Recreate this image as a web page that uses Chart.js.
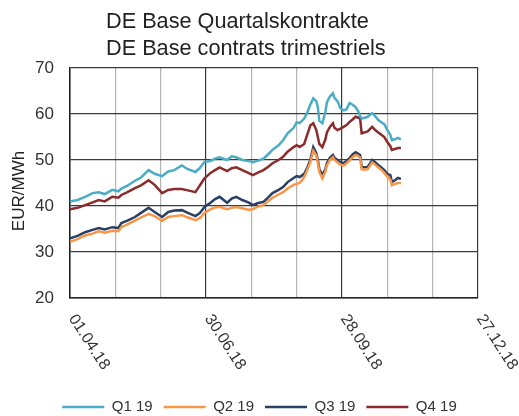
<!DOCTYPE html>
<html>
<head>
<meta charset="utf-8">
<script src="https://cdn.jsdelivr.net/npm/chart.js@4.4.1/dist/chart.umd.min.js"></script>
<style>
  html, body { margin: 0; padding: 0; background: #fff; }
  #chart { display: block; }
</style>
</head>
<body>
<canvas id="chart" width="519" height="416"></canvas>
<script>
// days since 01.04.18
const days = [0,5,10,15,19,23,28,32,34,38,43,47,52,56,61,65,69,74,78,83,86,89,93,96,99,104,107,110,114,118,121,124,128,131,134,138,141,144,148,150,152,155,157,159,161,163,164,165,167,169,170,172,174,175,177,179,181,183,185,187,189,191,192,193,195,197,200,202,204,206,208,210,212,213,215,217,219];

const q1 = [41.0,41.3,42.0,42.8,43.0, 42.6,43.5,43.2,43.8,44.4, 45.5,46.2,47.8,47.0,46.5, 47.5,47.8,48.8,48.0,47.4, 48.3,49.6,49.8,50.3,50.6, 50.0,50.8,50.6,50.0,49.8, 49.5,49.8,50.3,51.2,52.2, 53.2,54.3,55.8,57.0,58.2, 58.0,59.0,60.3,62.0,63.4, 62.8,61.5,58.5,58.0,60.5, 62.5,63.8,64.5,63.5,62.8, 61.2,60.8,61.0,62.4,62.0, 61.5,60.4,59.5,59.0,59.2, 59.4,60.2,59.5,58.7,58.2, 57.8,56.5,55.5,54.3,54.5, 54.8,54.5];
const q2 = [32.2,32.8,33.6,34.0,34.5, 34.2,34.6,34.5,35.4,36.0, 36.8,37.5,38.3,37.8,36.8, 37.6,37.8,38.0,37.5,36.9, 37.4,38.5,39.3,39.7,39.8, 39.3,39.6,39.8,39.5,39.2, 39.3,39.8,40.2,41.0,41.8, 42.5,43.0,43.8,44.6,44.8, 45.0,46.3,47.8,49.5,52.0, 51.0,49.4,47.4,46.0,47.5, 48.8,50.0,50.6,50.0,49.5, 49.0,48.8,49.3,49.9,50.6, 51.1,50.8,50.5,48.0,47.9, 48.0,49.5,49.0,48.4,47.9, 47.2,46.4,45.8,44.5,44.8, 45.0,45.0];
const q3 = [33.0,33.5,34.3,34.8,35.2, 34.9,35.4,35.2,36.3,36.8, 37.6,38.5,39.6,38.7,37.6, 38.7,39.0,39.1,38.5,37.8, 38.5,39.8,40.7,41.5,42.0, 40.7,41.6,42.0,41.3,40.8, 40.2,40.6,40.9,41.8,42.8, 43.5,44.1,45.2,46.1,46.5, 46.3,47.0,48.3,50.0,52.8, 51.5,50.0,48.0,46.7,48.0, 49.3,50.5,51.1,50.5,50.0, 49.5,49.3,49.8,50.4,51.2, 51.7,51.3,51.1,48.5,48.4, 48.5,50.0,49.5,48.9,48.4, 47.8,47.0,46.7,45.2,45.6, 46.1,45.9];
const q4 = [39.3,39.6,40.2,40.8,41.3, 41.0,42.0,41.8,42.4,43.0, 43.9,44.5,45.6,44.6,42.8, 43.5,43.7,43.7,43.4,43.0, 44.5,46.0,47.2,47.8,48.4, 47.6,48.2,48.4,47.8,47.2, 46.7,47.2,47.8,48.5,49.3, 50.0,50.7,51.8,52.8,53.2, 52.8,53.5,55.5,57.5,58.0, 56.5,55.0,53.5,52.8,54.5, 56.0,57.2,58.0,57.0,56.5, 56.8,57.2,57.6,58.3,58.8, 59.4,59.2,59.0,55.8,56.0, 56.2,57.2,56.5,56.0,55.5, 55.0,53.9,53.0,52.2,52.4, 52.6,52.6];

const seriesNames = ["Q1 19", "Q2 19", "Q3 19", "Q4 19"];
const tickDays = [0, 90, 180, 270];
const tickLabels = ["01.04.18", "30.06.18", "28.09.18", "27.12.18"];
const titleLines = ["DE Base Quartalskontrakte", "DE Base contrats trimestriels"];
const yTitle = "EUR/MWh";

const FONT = '"Liberation Sans", Arial, sans-serif';
const colors = ["#4bacc6", "#f79646", "#2a3f63", "#8c2b2b"];

function pts(vals) {
  return days.map((d, i) => ({ x: d, y: vals[i] }));
}

const textPlugin = {
  id: 'texts',
  afterDraw(chart) {
    const ctx = chart.ctx;
    const area = chart.chartArea;
    ctx.save();
    ctx.fillStyle = '#222';
    // header
    ctx.font = '21.7px ' + FONT;
    ctx.textAlign = 'left';
    ctx.textBaseline = 'alphabetic';
    ctx.fillText(titleLines[0], 106, 28);
    ctx.fillText(titleLines[1], 106, 55);
    // y title
    ctx.save();
    ctx.font = '17px ' + FONT;
    ctx.translate(19, 191);
    ctx.rotate(-Math.PI / 2);
    ctx.textAlign = 'center';
    ctx.textBaseline = 'middle';
    ctx.fillText(yTitle, 0, 0);
    ctx.restore();
    // x tick labels, slanted downwards
    ctx.font = '16px ' + FONT;
    ctx.fillStyle = '#333';
    ctx.textAlign = 'left';
    ctx.textBaseline = 'middle';
    tickDays.forEach((d, i) => {
      const px = chart.scales.x.getPixelForValue(d);
      ctx.save();
      ctx.translate(px + 2, area.bottom + 18);
      ctx.rotate(57 * Math.PI / 180);
      ctx.fillText(tickLabels[i], 0, 0);
      ctx.restore();
    });
    ctx.restore();
  }
};

new Chart(document.getElementById('chart'), {
  type: 'line',
  data: {
    datasets: [q1, q2, q3, q4].map((vals, i) => ({
      label: seriesNames[i],
      data: pts(vals),
      borderColor: colors[i],
      backgroundColor: colors[i],
      borderWidth: 2.5,
      pointRadius: 0,
      tension: 0
    }))
  },
  options: {
    responsive: false,
    animation: false,
    devicePixelRatio: 1,
    layout: { padding: { top: 68, right: 0, left: 0, bottom: -8.5 } },
    scales: {
      x: {
        type: 'linear',
        min: 0,
        max: 270,
        ticks: { stepSize: 30, display: false },
        grid: {
          drawTicks: false,
          color: c => (c.tick.value % 90 === 0 ? '#3a3a3a' : '#b4b4b4'),
          lineWidth: 1.2
        },
        border: { display: true, color: '#222', width: 1.5 },
        afterFit: s => { s.height = 90.5; }
      },
      y: {
        min: 20,
        max: 70,
        ticks: {
          stepSize: 5,
          padding: 16,
          color: '#333',
          font: { family: FONT, size: 17 },
          callback: v => (v % 10 === 0 ? v : '')
        },
        grid: {
          drawTicks: false,
          color: c => (c.tick.value % 10 === 0 ? '#3a3a3a' : '#b4b4b4'),
          lineWidth: 1.2
        },
        border: { display: true, color: '#222', width: 1.5 },
        afterFit: s => { s.width = 70; }
      },
      // empty right axis only keeps the margin right of the plot
      yRight: {
        position: 'right',
        min: 20,
        max: 70,
        ticks: { display: false },
        grid: { display: false, drawTicks: false },
        border: { display: false },
        afterFit: s => { s.width = 41; }
      }
    },
    plugins: {
      legend: {
        position: 'bottom',
        labels: {
          usePointStyle: true,
          pointStyle: 'line',
          pointStyleWidth: 42,
          padding: 11,
          color: '#333',
          font: { family: FONT, size: 15 }
        }
      },
      title: { display: false },
      tooltip: { enabled: false }
    }
  },
  plugins: [textPlugin]
});
</script>
</body>
</html>
